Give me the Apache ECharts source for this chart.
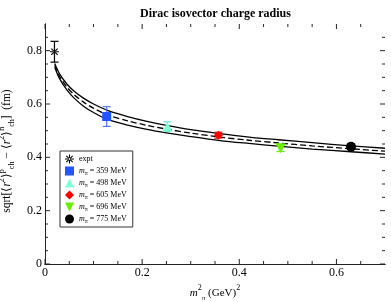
<!DOCTYPE html>
<html><head><meta charset="utf-8">
<script src="https://cdn.jsdelivr.net/npm/echarts@6/dist/echarts.min.js"></script>
<style>html,body{margin:0;padding:0;background:#fff}#c{width:391px;height:302px}</style>
</head><body><div id="c"></div>
<script>
// fit curves
const curveX   = [0.02, 0.03, 0.045, 0.06, 0.08, 0.10, 0.13, 0.17, 0.21, 0.25, 0.30, 0.36, 0.42, 0.48, 0.55, 0.63, 0.70];
const curveMid = [0.745, 0.704, 0.664, 0.635, 0.606, 0.584, 0.558, 0.537, 0.520, 0.506, 0.491, 0.476, 0.464, 0.454, 0.443, 0.432, 0.423];
const curveUp  = [0.752, 0.713, 0.675, 0.648, 0.621, 0.600, 0.575, 0.553, 0.535, 0.520, 0.504, 0.489, 0.476, 0.466, 0.455, 0.443, 0.434];
const curveLo  = [0.738, 0.695, 0.653, 0.622, 0.591, 0.568, 0.541, 0.521, 0.505, 0.492, 0.478, 0.463, 0.452, 0.442, 0.431, 0.421, 0.412];
// data points
const pointNames = ['expt', '359', '498', '605', '696', '775'];
const pointX   = [0.0195, 0.127, 0.252, 0.357, 0.485, 0.630];
const pointY   = [0.796, 0.553, 0.515, 0.483, 0.434, 0.440];
const pointErr = [0.039, 0.037, 0.018, 0.011, 0.012, 0.010];
// tick labels and tick positions
const xTicks = [0, 0.2, 0.4, 0.6];
const yTicks = [0, 0.2, 0.4, 0.6, 0.8];
const xMinorTicks = [0.05, 0.1, 0.15, 0.25, 0.3, 0.35, 0.45, 0.5, 0.55, 0.65];
const yMinorTicks = [0.05, 0.1, 0.15, 0.25, 0.3, 0.35, 0.45, 0.5, 0.55, 0.65, 0.7, 0.75, 0.85];

const colors = ['#000000', '#2255ff', '#7fffd4', '#ff0000', '#66ee00', '#000000'];
const barColors = ['#000000', '#5577ff', '#66ddcc', '#ff0000', '#66ee00', '#000000'];
const star = 'path://M-0.12,-1 L0.12,-1 L0.12,1 L-0.12,1 Z M-1,-0.12 L1,-0.12 L1,0.12 L-1,0.12 Z M0.622,0.792 L0.792,0.622 L-0.622,-0.792 L-0.792,-0.622 Z M-0.792,0.622 L-0.622,0.792 L0.792,-0.622 L0.622,-0.792 Z';
const symbols = [star, 'rect', 'triangle', 'diamond', 'path://M-1,-1 L1,-1 L0,1 Z', 'circle'];
const sizes = [9, 9, 10, 9, 10, 10];
const legendLabel = n => n === 'expt' ? 'expt' : '{i|m}{s|π}{t| = ' + n + ' MeV}';

const X_MIN = 0, X_MAX = 0.7, Y_MIN = 0, Y_MAX = 0.9;
const serif = 'Liberation Serif';
const chart = echarts.init(document.getElementById('c'));

const series = [];
function curve(d, dashed) {
  series.push({type: 'line', data: curveX.map((x, i) => [x, d[i]]), smooth: 0.3, symbol: 'none',
    lineStyle: {color: '#000', width: 1.3, type: dashed ? [6, 3] : 'solid'}, silent: true, z: 2});
}
curve(curveUp, false); curve(curveMid, true); curve(curveLo, false);

pointNames.forEach((n, i) => {
  series.push({type: 'custom', silent: true, z: 3,
    data: [[pointX[i], pointY[i], pointErr[i]]],
    renderItem: (params, api) => {
      const top = api.coord([api.value(0), api.value(1) + api.value(2)]);
      const bot = api.coord([api.value(0), api.value(1) - api.value(2)]);
      const w = 4;
      const st = {stroke: barColors[i], lineWidth: 1.2};
      return {type: 'group', children: [
        {type: 'line', shape: {x1: top[0], y1: top[1], x2: bot[0], y2: bot[1]}, style: st},
        {type: 'line', shape: {x1: top[0] - w, y1: top[1], x2: top[0] + w, y2: top[1]}, style: st},
        {type: 'line', shape: {x1: bot[0] - w, y1: bot[1], x2: bot[0] + w, y2: bot[1]}, style: st}
      ]};
    }});
  series.push({type: 'scatter', name: legendLabel(n), data: [[pointX[i], pointY[i]]],
    symbol: symbols[i], symbolSize: sizes[i], z: 4,
    itemStyle: {color: colors[i], opacity: 1}});
});

// inward ticks on all four sides, placed through the axes' scales
series.push({type: 'custom', silent: true, clip: false, z: 5, data: [[0, 0]],
  renderItem: (params, api) => {
    const ch = [];
    const st = {stroke: '#222', lineWidth: 1};
    const add = (x1, y1, x2, y2) => ch.push({type: 'line', shape: {x1, y1, x2, y2}, style: st});
    const xt = (v, len) => {
      const b = api.coord([v, Y_MIN]), t = api.coord([v, Y_MAX]);
      add(b[0], b[1], b[0], b[1] - len); add(t[0], t[1], t[0], t[1] + len);
    };
    const yt = (v, len) => {
      const l = api.coord([X_MIN, v]), r = api.coord([X_MAX, v]);
      add(l[0], l[1], l[0] + len, l[1]); add(r[0], r[1], r[0] - len, r[1]);
    };
    xTicks.forEach(v => xt(v, 5)); xMinorTicks.forEach(v => xt(v, 3));
    yTicks.forEach(v => yt(v, 5)); yMinorTicks.forEach(v => yt(v, 3));
    return {type: 'group', children: ch};
  }});

const axisCommon = {
  axisLine: {show: true, lineStyle: {color: '#222', width: 1}},
  axisTick: {show: false}, minorTick: {show: false},
  splitLine: {show: false}, minorSplitLine: {show: false}
};
const xBase = Object.assign({type: 'value', min: X_MIN, max: X_MAX, interval: 0.2}, axisCommon);
const yBase = Object.assign({type: 'value', min: Y_MIN, max: Y_MAX, interval: 0.2}, axisCommon);

chart.setOption({
  animation: false,
  backgroundColor: '#fff',
  title: {text: 'Dirac isovector charge radius', left: 135, top: 3,
    textStyle: {fontFamily: serif, fontWeight: 'bold', fontSize: 12, color: '#000'}},
  grid: {left: 45, right: 6, top: 24, bottom: 38, containLabel: false, outerBoundsMode: 'none'},
  legend: {orient: 'vertical', left: 60, top: 151, itemWidth: 9, itemHeight: 9, itemGap: 2,
    padding: [3, 6, 3, 5], borderColor: '#333', borderWidth: 1, backgroundColor: '#fff',
    selectedMode: false,
    textStyle: {fontFamily: serif, fontSize: 8, color: '#000', lineHeight: 10,
      rich: {i: {fontFamily: serif, fontStyle: 'italic', fontSize: 8, lineHeight: 10, verticalAlign: 'middle'},
             s: {fontFamily: serif, fontSize: 6, lineHeight: 10, verticalAlign: 'bottom'},
             t: {fontFamily: serif, fontSize: 8, lineHeight: 10, verticalAlign: 'middle'}}}},
  xAxis: [
    Object.assign({}, xBase, {position: 'bottom',
      axisLabel: {fontFamily: serif, fontSize: 12, color: '#000', margin: 3,
        formatter: v => xTicks.includes(+v.toFixed(2)) ? String(+v.toFixed(2)) : ''},
      name: '{i|m}{sp|2}{sb|π}{t| (GeV)}{sp|2}', nameLocation: 'middle', nameGap: 20,
      nameTextStyle: {rich: {
        i: {fontFamily: serif, fontStyle: 'italic', fontSize: 11, lineHeight: 18, verticalAlign: 'middle', color: '#000'},
        sp: {fontFamily: serif, fontSize: 8, lineHeight: 18, verticalAlign: 'top', color: '#000'},
        sb: {fontFamily: serif, fontSize: 7, lineHeight: 18, verticalAlign: 'bottom', color: '#000'},
        t: {fontFamily: serif, fontSize: 11, lineHeight: 18, verticalAlign: 'middle', color: '#000'}}}}),
    Object.assign({}, xBase, {position: 'top', axisLabel: {show: false}})
  ],
  yAxis: [
    Object.assign({}, yBase, {position: 'left',
      axisLabel: {fontFamily: serif, fontSize: 12, color: '#000', margin: 3,
        formatter: v => yTicks.includes(+v.toFixed(2)) ? String(+v.toFixed(2)) : ''},
      name: '{t|sqrt[⟨}{i|r}{sp|2}{t|⟩}{sp|p}{sb|ch}{t| − ⟨}{i|r}{sp|2}{t|⟩}{sp|n}{sb|ch}{t|]  (fm)}',
      nameLocation: 'middle', nameGap: 17, nameRotate: 90,
      nameTextStyle: {padding: [0, 14, 0, 0], rich: {
        t: {fontFamily: serif, fontSize: 11.5, lineHeight: 18, verticalAlign: 'middle', color: '#000'},
        i: {fontFamily: serif, fontStyle: 'italic', fontSize: 11.5, lineHeight: 18, verticalAlign: 'middle', color: '#000'},
        sp: {fontFamily: serif, fontSize: 8, lineHeight: 18, verticalAlign: 'top', color: '#000'},
        sb: {fontFamily: serif, fontSize: 8, lineHeight: 18, verticalAlign: 'bottom', color: '#000'}}}}),
    Object.assign({}, yBase, {position: 'right', axisLabel: {show: false}})
  ],
  series: series
});
</script></body></html>
